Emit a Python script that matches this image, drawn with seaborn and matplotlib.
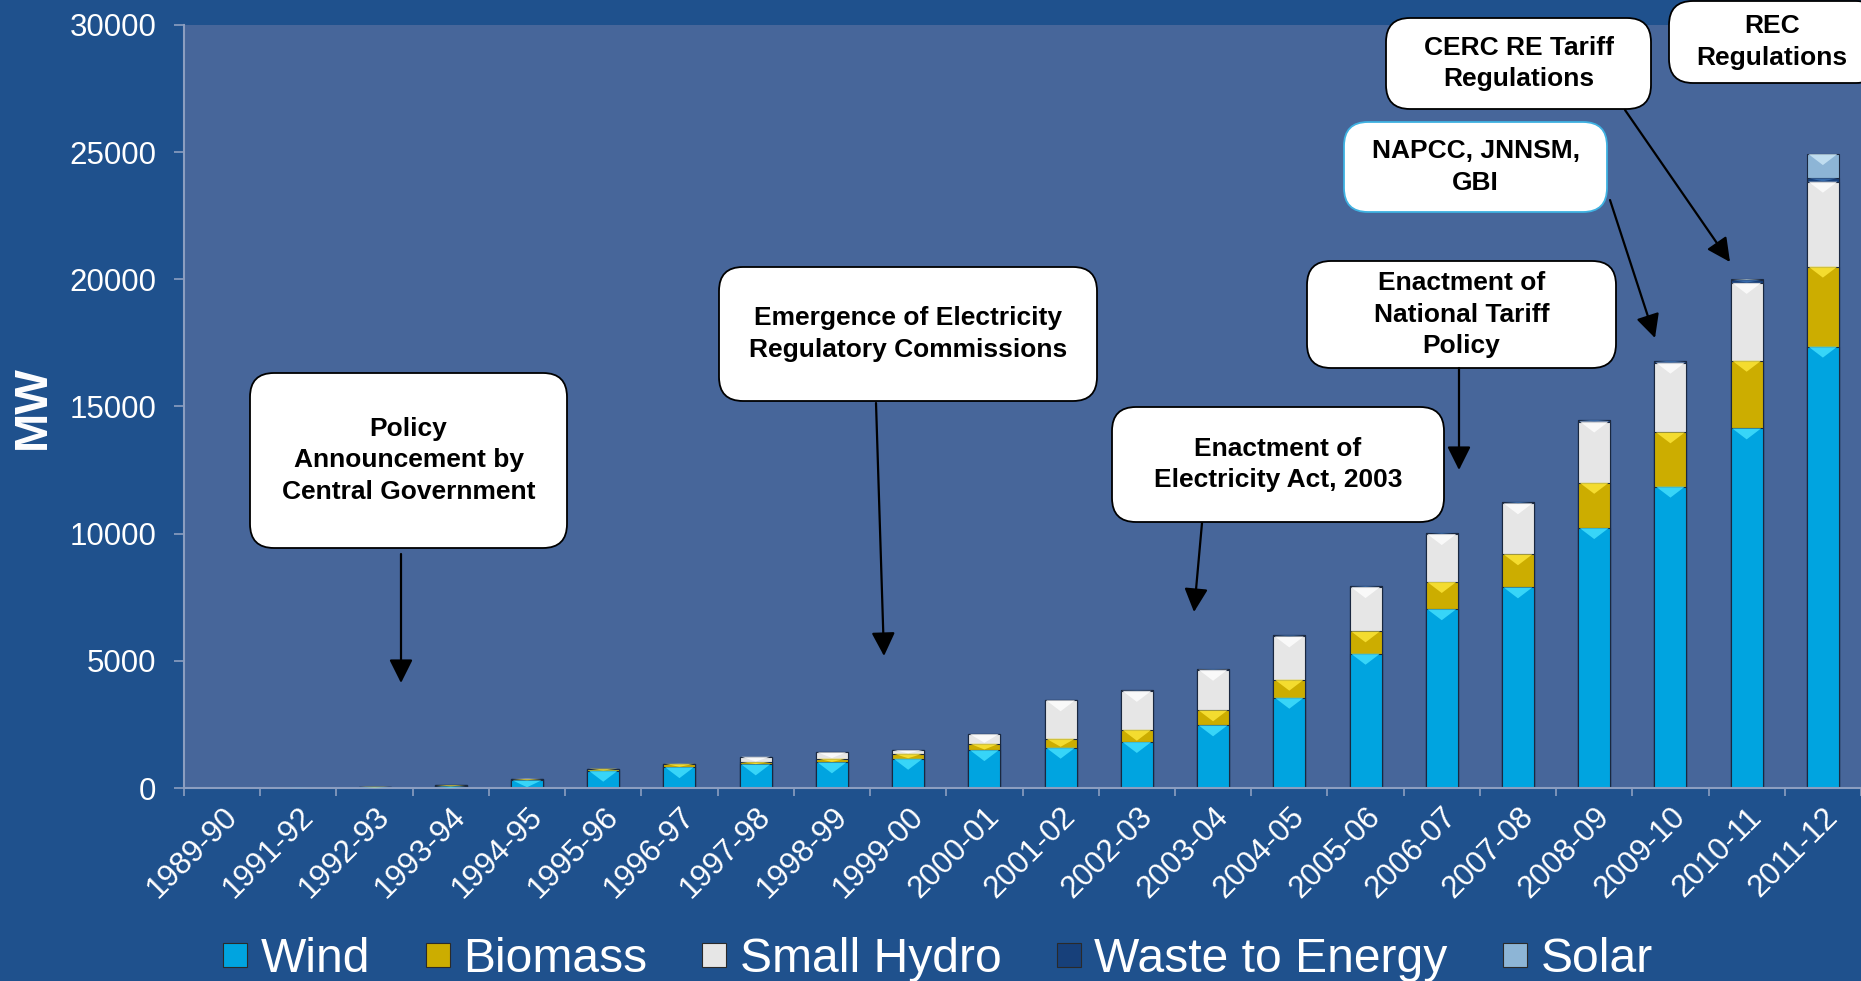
import numpy as np
import pandas as pd
import matplotlib
matplotlib.use('Agg')
import matplotlib.pyplot as plt
import seaborn as sns
from matplotlib.patches import FancyBboxPatch, FancyArrowPatch, Patch
from matplotlib.ticker import FixedLocator

# ---------------- data (MW, cumulative installed capacity) ----------------
categories = ['1989-90', '1991-92', '1992-93', '1993-94', '1994-95', '1995-96',
              '1996-97', '1997-98', '1998-99', '1999-00', '2000-01', '2001-02',
              '2002-03', '2003-04', '2004-05', '2005-06', '2006-07', '2007-08',
              '2008-09', '2009-10', '2010-11', '2011-12']
wind = [0, 5, 20, 60, 300, 680, 820, 930, 1010, 1150, 1490, 1585,
        1810, 2465, 3550, 5280, 7030, 7890, 10220, 11850, 14140, 17355]
biomass = [0, 0, 30, 50, 50, 80, 130, 90, 145, 200, 250, 355,
           480, 590, 710, 880, 1070, 1300, 1780, 2135, 2660, 3145]
small_hydro = [0, 0, 0, 0, 20, 0, 10, 210, 250, 140, 380, 1510,
               1530, 1595, 1700, 1740, 1885, 2005, 2410, 2740, 3060, 3340]
waste_to_energy = [0, 0, 0, 0, 0, 0, 0, 0, 0, 0, 0, 0,
                   20, 40, 45, 45, 55, 55, 60, 65, 110, 135]
solar = [0, 0, 0, 0, 0, 0, 0, 0, 0, 0, 0, 0,
         0, 0, 0, 0, 0, 0, 0, 0, 35, 950]

series_names = ['Wind', 'Biomass', 'Small Hydro', 'Waste to Energy', 'Solar']
series_values = [wind, biomass, small_hydro, waste_to_energy, solar]
y_ticks = [0, 5000, 10000, 15000, 20000, 25000, 30000]

callouts = [
    "Policy\nAnnouncement by\nCentral Government",
    "Emergence of Electricity\nRegulatory Commissions",
    "Enactment of\nElectricity Act, 2003",
    "Enactment of\nNational Tariff\nPolicy",
    "NAPCC, JNNSM,\nGBI",
    "CERC RE Tariff\nRegulations",
    "REC\nRegulations",
]

# ---------------- style ----------------
series_colors = ['#00A4E0', '#CCAD00', '#E6E6E6', '#17407A', '#8DB5D6']
series_light = ['#45E2FF', '#FFE83C', '#FFFFFF', '#3F74B6', '#CDE8F7']
FIG_BG = '#1F518D'
AX_BG = '#47669A'
SPINE = '#8C9EC0'

sns.set_theme(style='ticks')
plt.rcParams['font.family'] = ['Liberation Sans', 'DejaVu Sans']

W, H = 1861, 981
fig = plt.figure(figsize=(W / 100, H / 100), dpi=100, facecolor=FIG_BG)
ax = fig.add_axes([184 / W, 1 - 788 / H, 1 - 184 / W, (788 - 25) / H])
ax.set_facecolor(AX_BG)

df = pd.DataFrame({'Year': categories})
for n, v in zip(series_names, series_values):
    df[n] = v
cum = df[series_names].cumsum(axis=1)
cum['Year'] = categories

BAR_W = 0.42
# draw cumulative totals from the top series down => stacked bars
for name, color in reversed(list(zip(series_names, series_colors))):
    sns.barplot(data=cum, x='Year', y=name, order=categories, color=color,
                saturation=1, width=BAR_W, errorbar=None,
                edgecolor='#1A2840', linewidth=0.8, ax=ax, zorder=2)

ax.set_xlim(-0.5, len(categories) - 0.5)
ax.set_ylim(0, 30000)

# bevel highlight: light chevron at the top of each segment
px_per_mw = (788 - 25) / 30000.0
bevel_mw = 11 / px_per_mw
prev = np.zeros(len(categories))
for i, name in enumerate(series_names):
    top = cum[name].to_numpy(dtype=float)
    seg = top - prev
    for j in range(len(categories)):
        if seg[j] <= 0:
            continue
        d = min(bevel_mw, seg[j] * 0.9)
        x0, x1 = j - BAR_W / 2 + 0.02, j + BAR_W / 2 - 0.02
        ax.fill([x0, x1, j], [top[j], top[j], top[j] - d],
                color=series_light[i], lw=0, zorder=3, alpha=0.8)
    prev = top

# axes styling
for s in ['top', 'right']:
    ax.spines[s].set_visible(False)
for s in ['left', 'bottom']:
    ax.spines[s].set_color(SPINE)
    ax.spines[s].set_linewidth(1.5)

ax.set_yticks(y_ticks)
ax.set_yticklabels([str(t) for t in y_ticks])
ax.tick_params(axis='y', colors=SPINE, labelcolor='white', labelsize=22.5,
               length=7, width=1.2, pad=13)
ax.set_xticks(range(len(categories)))
ax.set_xticklabels(categories)
ax.xaxis.set_minor_locator(FixedLocator(np.arange(-0.5, len(categories), 1.0)))
ax.tick_params(axis='x', which='major', length=0, labelcolor='white',
               labelsize=22.5, pad=10)
ax.tick_params(axis='x', which='minor', length=6, width=1.2, colors=SPINE)
for lab in ax.get_xticklabels():
    lab.set_rotation(45)
    lab.set_ha('right')
    lab.set_va('top')
    lab.set_rotation_mode('anchor')
ax.set_xlabel('')
ax.set_ylabel('')
fig.text(33 / W, 1 - 407 / H, 'MW', rotation=90, ha='center', va='center',
         fontsize=34, fontweight='bold', color='white')

# ---------------- callouts (positions in full-size pixels) ----------------
def to_in(x, y):
    return x / 100.0, (H - y) / 100.0

boxes = [
    (250, 373, 567, 548),
    (719, 267, 1097, 401),
    (1112, 407, 1444, 522),
    (1307, 261, 1616, 368),
    (1344, 122, 1607, 212),
    (1386, 18, 1651, 109),
    (1669, 1, 1880, 83),
]
box_edges = ['black', 'black', 'black', 'black', '#3FB2E2', 'black', 'black']
for (x0, y0, x1, y1), txt, ec in zip(boxes, callouts, box_edges):
    bx, by = to_in(x0, y1)
    p = FancyBboxPatch((bx, by), (x1 - x0) / 100, (y1 - y0) / 100,
                       boxstyle='round,pad=0,rounding_size=0.24',
                       transform=fig.dpi_scale_trans, fc='white', ec=ec,
                       lw=1.3, zorder=5, clip_on=False)
    fig.add_artist(p)
    cx, cy = to_in((x0 + min(x1, W + 14)) / 2, (y0 + y1) / 2)
    fig.text(cx, cy, txt, transform=fig.dpi_scale_trans, ha='center',
             va='center', fontsize=19, fontweight='bold', color='black',
             linespacing=1.4, zorder=6)

arrows = [
    ((401, 554), (401, 683)),
    ((876, 403), (884, 656)),
    ((1202, 523), (1194, 612)),
    ((1459, 368), (1459, 470)),
    ((1610, 200), (1655, 338)),
    ((1625, 110), (1730, 262)),
]
for a, b in arrows:
    ar = FancyArrowPatch(to_in(*a), to_in(*b), transform=fig.dpi_scale_trans,
                         arrowstyle='-|>,head_length=0.6,head_width=0.3',
                         mutation_scale=24, color='black', lw=1.6,
                         shrinkA=0, shrinkB=0, zorder=6)
    fig.add_artist(ar)

# ---------------- legend ----------------
handles = [Patch(facecolor=c, edgecolor='#2A2A2A', lw=0.8) for c in series_colors]
fig.legend(handles, series_names, loc='center', bbox_to_anchor=(0.504, 0.022),
           ncol=5, frameon=False, fontsize=34.6, labelcolor='white',
           handlelength=0.5, handleheight=0.39, handletextpad=0.28,
           columnspacing=1.15, borderaxespad=0)

fig.savefig('out.png', dpi=100, facecolor=FIG_BG)
